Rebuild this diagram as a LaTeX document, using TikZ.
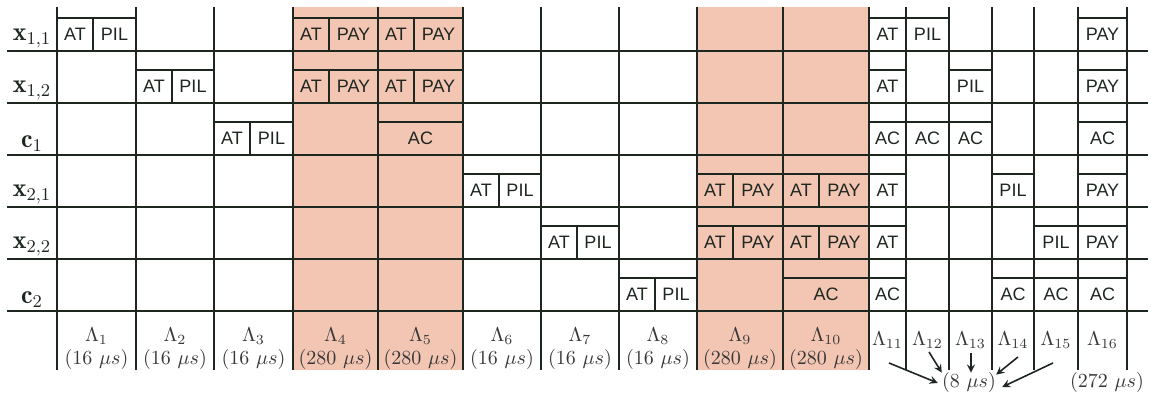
\documentclass[tikz,border=0pt]{standalone}
\usepackage{amsmath}
\usepackage{fontspec}
\newfontfamily\boxfont{Liberation Sans}
\usepackage{tikz}
\definecolor{myline}{RGB}{30, 38, 32}
\definecolor{mysalmon}{RGB}{243, 198, 180}
\definecolor{mygray}{RGB}{55, 55, 55}

\begin{document}
\begin{tikzpicture}[x=0.5pt, y=-0.5pt]
  \useasboundingbox (0,0) rectangle (1153,399);
  \tikzstyle{grid}=[draw=myline, line width=0.9pt]
  \tikzstyle{slot}=[draw=myline, line width=0.8pt]
  \tikzstyle{word}=[font=\boxfont\fontsize{9}{10}\selectfont, text=myline, inner sep=0pt]
  \tikzstyle{row}=[font=\fontsize{13}{15}\selectfont, text=myline, inner sep=0pt, anchor=base]
  \tikzstyle{dur}=[font=\fontsize{10}{12}\selectfont, text=mygray, inner sep=0pt, anchor=base]

  % the 280 us slots
  \fill[mysalmon] (293,7) rectangle (463,370);
  \fill[mysalmon] (697,7) rectangle (869,370);

  % grid
  \foreach \y in {51,103,155,207,259,311}
    \draw[grid] (7,\y) -- (1148,\y);
  \foreach \x in {57,136,214,293,378,463,541,619,697,783,869,906,949,992,1034,1078,1127}
    \draw[grid] (\x,7) -- (\x,370);

  % row names
  \node[row] (x11) at (32,41) {$\mathbf{x}_{1,1}$};
  \node[row] (x12) at (32,93) {$\mathbf{x}_{1,2}$};
  \node[row] (c1) at (32,148) {$\mathbf{c}_{1}$};
  \node[row] (x21) at (32,197) {$\mathbf{x}_{2,1}$};
  \node[row] (x22) at (32,249) {$\mathbf{x}_{2,2}$};
  \node[row] (c2) at (32,304) {$\mathbf{c}_{2}$};

  % fields sent in each slot: left/right/row line/text
  \foreach \a/\b/\r/\t [count=\i] in {
      57/93/51/AT, 93/136/51/PIL, 293/329/51/AT, 329/378/51/PAY, 378/414/51/AT, 414/463/51/PAY,
      869/906/51/AT, 906/949/51/PIL, 1078/1127/51/PAY,
      136/172/103/AT, 172/214/103/PIL, 293/329/103/AT, 329/378/103/PAY, 378/414/103/AT, 414/463/103/PAY,
      869/906/103/AT, 949/992/103/PIL, 1078/1127/103/PAY,
      214/250/155/AT, 250/293/155/PIL, 378/463/155/AC,
      869/906/155/AC, 906/949/155/AC, 949/992/155/AC, 1078/1127/155/AC,
      463/499/207/AT, 499/541/207/PIL, 697/733/207/AT, 733/783/207/PAY, 783/819/207/AT, 819/869/207/PAY,
      869/906/207/AT, 992/1034/207/PIL, 1078/1127/207/PAY,
      541/577/259/AT, 577/619/259/PIL, 697/733/259/AT, 733/783/259/PAY, 783/819/259/AT, 819/869/259/PAY,
      869/906/259/AT, 1034/1078/259/PIL, 1078/1127/259/PAY,
      619/655/311/AT, 655/697/311/PIL, 783/869/311/AC,
      869/906/311/AC, 992/1034/311/AC, 1034/1078/311/AC, 1078/1127/311/AC}
  {
    \draw[slot] (\a,\r-33) rectangle (\b,\r);
    \node[word] (s\i) at ({(\a+\b)/2},\r-16.5) {\t};
  }

  % slot names and lengths
  \foreach \a/\b/\k/\dt in {57/136/1/16, 136/214/2/16, 214/293/3/16, 293/378/4/280, 378/463/5/280,
      463/541/6/16, 541/619/7/16, 619/697/8/16, 697/783/9/280, 783/869/10/280}
  {
    \node[dur] (L\k) at ({(\a+\b)/2},342) {$\Lambda_{\k}$};
    \node[dur] (d\k) at ({(\a+\b)/2},365) {(\dt\ $\mu s$)};
  }
  \foreach \a/\b/\k in {869/906/11, 906/949/12, 949/992/13, 992/1034/14, 1034/1078/15, 1078/1127/16}
    \node[dur] (L\k) at ({(\a+\b)/2},346) {$\Lambda_{\k}$};
  \node[dur] (d16) at (1107,388) {(272 $\mu s$)};
  \node[dur] (short) at (969,388) {(8 $\mu s$)};

  \tikzstyle{bind}=[->, >=stealth, line width=0.8pt, draw=myline]
  \coordinate (t11) at (889,363);
  \coordinate (t12) at (929,352);
  \coordinate (t13) at (971,353);
  \coordinate (t14) at (1018,357);
  \coordinate (t15) at (1053,363);
  \draw[bind] (t11) -- ([xshift=-2pt]short.west);
  \draw[bind] (t12) -- (short.north west);
  \draw[bind] (t13) -- ([xshift=1pt]short.north);
  \draw[bind] (t14) -- ([yshift=-1pt]short.north east);
  \draw[bind] (t15) -- ([xshift=3pt,yshift=-2pt]short.east);
\end{tikzpicture}
\end{document}
